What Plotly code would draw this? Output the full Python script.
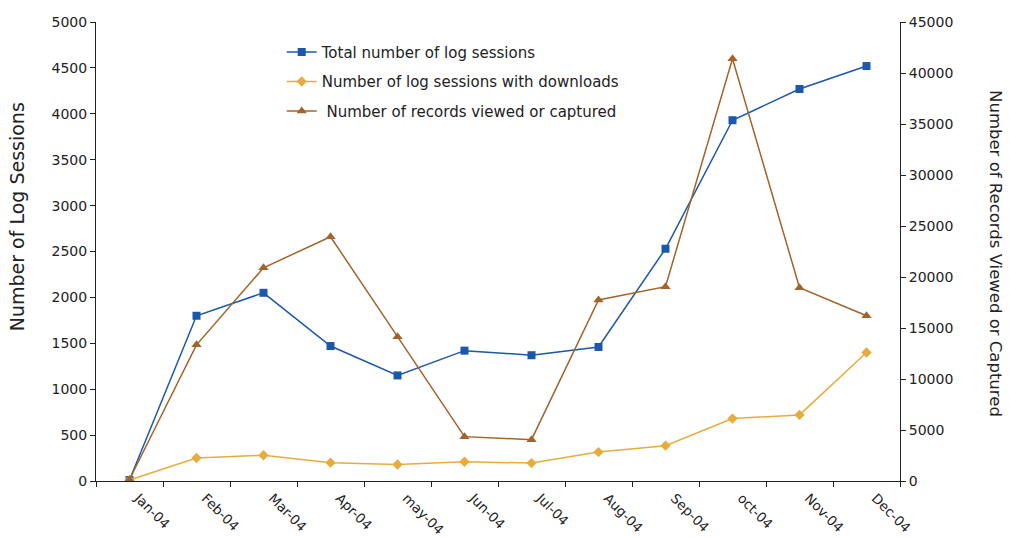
import plotly.graph_objects as go

# Monthly log statistics for 2004
months = ["Jan-04", "Feb-04", "Mar-04", "Apr-04", "may-04", "Jun-04",
          "Jul-04", "Aug-04", "Sep-04", "oct-04", "Nov-04", "Dec-04"]
total_sessions = [10, 1800, 2050, 1470, 1150, 1420, 1370, 1460, 2530, 3930, 4270, 4520]
download_sessions = [10, 250, 280, 200, 180, 210, 195, 315, 385, 680, 720, 1400]
records_viewed = [150, 13350, 20900, 23950, 14150, 4350, 4050, 17750, 19050, 41400, 18950, 16200]

BLUE = "#1B57AB"
ORANGE = "#E8AC3E"
BROWN = "#A0642C"
FONT = "DejaVu Sans"

fig = go.Figure()
fig.add_trace(go.Scatter(
    x=months, y=total_sessions, name="Total number of log sessions",
    legendgroup="a",
    mode="lines+markers", line=dict(color=BLUE, width=1.5),
    marker=dict(symbol="square", size=8, color=BLUE),
))
fig.add_trace(go.Scatter(
    x=months, y=download_sessions, name="Number of log sessions with downloads",
    legendgroup="b",
    mode="lines+markers", line=dict(color=ORANGE, width=1.5),
    marker=dict(symbol="diamond", size=8, color=ORANGE),
))
fig.add_trace(go.Scatter(
    x=months, y=records_viewed, name=" Number of records viewed or captured",
    legendgroup="c",
    mode="lines+markers", line=dict(color=BROWN, width=1.5),
    marker=dict(symbol="triangle-up", size=9, color=BROWN),
    yaxis="y2",
))

axis_common = dict(showgrid=False, zeroline=False, showline=True,
                   linecolor="#222", linewidth=1, ticks="outside",
                   ticklen=5, tickcolor="#222", automargin=False,
                   tickfont=dict(family=FONT, size=14, color="#222"))

fig.update_layout(
    width=1009, height=537,
    margin=dict(l=96, r=109, t=22, b=56),
    paper_bgcolor="white", plot_bgcolor="white",
    font=dict(family=FONT, size=14, color="#222"),
    showlegend=True,
    legend=dict(x=0.231, y=0.97, xanchor="left", yanchor="top",
                bgcolor="rgba(0,0,0,0)", font=dict(family=FONT, size=15, color="#222"),
                tracegroupgap=7, itemwidth=30),
    xaxis=dict(axis_common, type="category", tickangle=45,
               tickson="boundaries", range=[-0.5, 11.5],
               ticklabelstandoff=3, ticklabelshift=9,
               tickfont=dict(family=FONT, size=13.5, color="#222")),
    yaxis=dict(axis_common, range=[0, 5000], dtick=500, tickformat="d"),
    yaxis2=dict(axis_common, range=[0, 45000], dtick=5000, overlaying="y",
                side="right", tickformat="d"),
    annotations=[
        dict(text="Number of Log Sessions", xref="paper", yref="paper",
             x=-0.098, y=0.575, xanchor="center", yanchor="middle",
             textangle=-90, showarrow=False,
             font=dict(family=FONT, size=19, color="#222")),
        dict(text="Number of Records Viewed or Captured", xref="paper", yref="paper",
             x=1.119, y=0.495, xanchor="center", yanchor="middle",
             textangle=90, showarrow=False,
             font=dict(family=FONT, size=16.5, color="#222")),
    ],
)

fig.write_html("out.html")
